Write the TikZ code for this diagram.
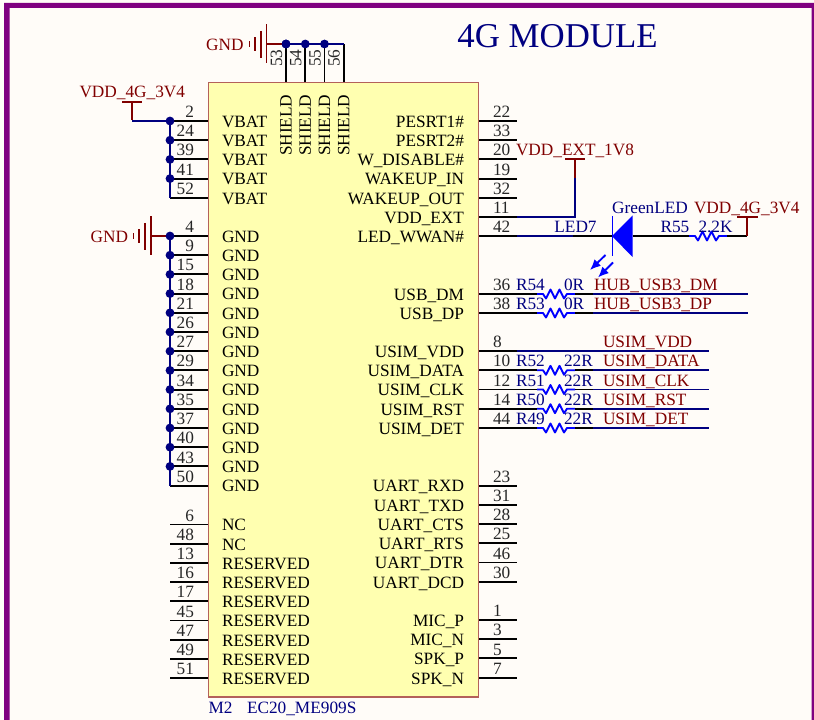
\documentclass[tikz,border=0pt]{standalone}
\usepackage{fontspec}
\usetikzlibrary{arrows.meta}
\setmainfont{Liberation Serif}
\definecolor{maroonx}{HTML}{800000}
\definecolor{navyx}{HTML}{000080}
\definecolor{bluex}{HTML}{0000FF}
\definecolor{purplex}{HTML}{800080}
\definecolor{paperx}{HTML}{FFFCF8}
\definecolor{blockx}{HTML}{FFFFB0}
\definecolor{edgex}{HTML}{B4615A}
\newcommand{\fs}{\fontsize{12.95pt}{14pt}\selectfont}
\tikzset{
  pinline/.style={draw=black,line width=1.4pt},
  wire/.style={draw=navyx,line width=1.4pt},
  pwr/.style={draw=maroonx,line width=1.4pt},
  txt/.style={inner sep=0pt,outer sep=0pt,font=\fs},
  pinname/.style={txt,text=black,anchor=base west},
  pinnamer/.style={txt,text=black,anchor=base east},
  pinnum/.style={txt,text=black!85,anchor=base},
  netlab/.style={txt,text=maroonx,anchor=base west},
  deslab/.style={txt,text=navyx,anchor=base west},
  junc/.style={circle,fill=navyx,inner sep=0pt,minimum size=6.6pt},
  resz/.style={draw=bluex,line width=1.4pt,line join=round},
  ledarrow/.style={-{Latex[length=8pt,width=7pt]},bluex,line width=1.4pt}
}
\newcommand{\leftpin}[4]{% id, y, num, name
  \coordinate (L#1) at (170,#2);\coordinate (LB#1) at (208,#2);
  \draw[pinline] (L#1) -- (LB#1);
  \node[pinnum,anchor=base east] (LN#1) at (194,#2-3.4) {#3};
  \node[pinname] (LT#1) at (222,#2+6.3) {#4};}
\newcommand{\rightpin}[4]{%
  \coordinate (R#1) at (517,#2);\coordinate (RB#1) at (479,#2);
  \draw[pinline] (RB#1) -- (R#1);
  \node[pinnum,anchor=base west] (RN#1) at (493,#2-3.4) {#3};
  \node[pinnamer] (RT#1) at (464,#2+6.3) {#4};}
\newcommand{\resist}[3]{% name, x start, y
  \coordinate (#1a) at (#2,#3);\coordinate (#1b) at (#2+38,#3);
  \draw[resz] (#1a) -- ++(6,0) -- ++(3,4.5) -- ++(4.5,-9) -- ++(4.5,9) -- ++(4.5,-9) -- ++(4.5,9) -- ++(3,-4.5) -- (#1b);}
\begin{document}
\begin{tikzpicture}[x=0.75pt,y=-0.75pt]
\useasboundingbox (0,0) rectangle (814,720);
\fill[paperx] (0,0) rectangle (814,720);
\fill[purplex] (4,726) -- (4,3) -- (814,3) -- (814,726) -- (811.5,726) -- (811.5,8) -- (9.5,8) -- (9.5,726) -- cycle;
\node[txt,font=\fontsize{26.1pt}{28pt}\selectfont,text=navyx,anchor=base] (title) at (557.5,47.5) {4G MODULE};
\node[draw=edgex,fill=blockx,line width=1pt,minimum width=202.5pt,minimum height=460.9pt,inner sep=0pt] (block) at (343.5,389.75) {};
% left pins
\leftpin{a}{121}{2}{VBAT}\leftpin{b}{140.2}{24}{VBAT}\leftpin{c}{159.4}{39}{VBAT}\leftpin{d}{178.6}{41}{VBAT}\leftpin{e}{197.8}{52}{VBAT}
\foreach \i/\n [count=\k from 0] in {1/4,2/9,3/15,4/18,5/21,6/26,7/27,8/29,9/34,10/35,11/37,12/40,13/43,14/50}{
  \pgfmathsetmacro\yy{236+19.2*\k}
  \leftpin{g\i}{\yy}{\n}{GND}}
\foreach \i/\n/\t [count=\k from 0] in {1/6/NC,2/48/NC,3/13/RESERVED,4/16/RESERVED,5/17/RESERVED,6/45/RESERVED,7/47/RESERVED,8/49/RESERVED,9/51/RESERVED}{
  \pgfmathsetmacro\yy{524.5+19.2*\k}
  \leftpin{n\i}{\yy}{\n}{\t}}
% right pins
\rightpin{a}{121}{22}{PESRT1\#}\rightpin{b}{140.2}{33}{PESRT2\#}\rightpin{c}{159.4}{20}{W\_DISABLE\#}\rightpin{d}{178.6}{19}{WAKEUP\_IN}\rightpin{e}{197.8}{32}{WAKEUP\_OUT}\rightpin{f}{217}{11}{VDD\_EXT}\rightpin{g}{236}{42}{LED\_WWAN\#}
\rightpin{h}{294}{36}{USB\_DM}\rightpin{i}{313}{38}{USB\_DP}
\rightpin{j}{351}{8}{USIM\_VDD}\rightpin{k}{370.3}{10}{USIM\_DATA}\rightpin{l}{389.5}{12}{USIM\_CLK}\rightpin{m}{408.7}{14}{USIM\_RST}\rightpin{o}{428}{44}{USIM\_DET}
\rightpin{p}{485.6}{23}{UART\_RXD}\rightpin{q}{504.8}{31}{UART\_TXD}\rightpin{r}{524}{28}{UART\_CTS}\rightpin{s}{543.2}{25}{UART\_RTS}\rightpin{t}{562.5}{46}{UART\_DTR}\rightpin{u}{581.7}{30}{UART\_DCD}
\rightpin{v}{620}{1}{MIC\_P}\rightpin{w}{639.2}{3}{MIC\_N}\rightpin{x}{658.4}{5}{SPK\_P}\rightpin{y}{678}{7}{SPK\_N}
% top pins
\foreach \x/\n [count=\k] in {286/53,305.3/54,324.5/55,343.7/56}{
  \coordinate (T\k) at (\x,44);\coordinate (TB\k) at (\x,82);
  \draw[pinline] (T\k) -- (TB\k);
  \node[txt,rotate=90,anchor=base west,text=black!85] (TN\k) at (\x-4,67) {\n};
  \node[pinname,rotate=90] (TT\k) at (\x+5.6,156) {SHIELD};}
\draw[wire] (T1) -- (T4);
\foreach \k in {1,2,3}{\node[junc] (TJ\k) at (T\k) {};}
% top GND
\coordinate (gt) at (266.5,44);
\draw[pwr] (gt) -- (T1);
\node[junc] (TJa) at (T1) {};
\draw[pwr] (266.5,24.5) -- (266.5,63.5);
\draw[pwr] (261,31) -- (261,58);
\draw[pwr] (255,37.5) -- (255,51.5);
\draw[pwr] (249.5,41.5) -- (249.5,47.5);
\node[netlab,anchor=base east] (gndt) at (243.5,50.7) {GND};
% VBAT
\coordinate (vb) at (132,102);
\draw[pwr] (vb) -- (132,120);
\draw[wire] (132,121) -- (La);
\draw[pwr] (122,102) -- (142,102);
\node[netlab] (vdda) at (79.5,97.5) {VDD\_4G\_3V4};
\draw[wire] (La) -- (Le);
\foreach \p in {a,b,c,d}{\node[junc] (J\p) at (L\p) {};}
% GND rail
\coordinate (gl) at (151,236);
\draw[pwr] (gl) -- (Lg1);
\draw[pwr] (151,216.5) -- (151,255.5);
\draw[pwr] (145,223) -- (145,250);
\draw[pwr] (139,229.5) -- (139,243.5);
\draw[pwr] (133.5,233.5) -- (133.5,239.5);
\node[netlab,anchor=base east] (gndl) at (128,242.7) {GND};
\draw[wire] (Lg1) -- (Lg14);
\foreach \k in {1,...,13}{\node[junc] (JG\k) at (Lg\k) {};}
% right nets
\coordinate (ve) at (575,159);
\draw[pwr] (565,159) -- (585,159);
\draw[pwr] (ve) -- (575,178);
\draw[wire] (575,178) |- (Rf);
\node[netlab] (vddext) at (516,155.5) {VDD\_EXT\_1V8};
% LED
\node[txt,text=navyx,anchor=base] (ledval) at (650,213.5) {GreenLED};
\node[txt,text=navyx,anchor=base] (ledn) at (575.5,232.5) {LED7};
\coordinate (ledc) at (612,236);\coordinate (leda) at (632.5,236);
\draw[wire] (Rg) -- (573,236);
\draw[pinline] (573,236) -- (ledc);
\fill[bluex] (ledc) -- (632.5,215.5) -- (632.5,257) -- cycle;
\draw[bluex,line width=1.4pt] (612.5,216) -- (612.5,256);
\draw[pinline] (leda) -- (690,236);
\draw[ledarrow] (605.5,255) -- (590,270);
\draw[ledarrow] (613,262.5) -- (598,277.5);
\resist{rl}{689}{236}
\coordinate (vl) at (747,236);
\draw[pinline] (rlb) -- (vl);
\draw[pwr] (747,236) -- (747,217);
\draw[pwr] (737,217) -- (758,217);
\node[netlab] (vddl) at (694,213.5) {VDD\_4G\_3V4};
\node[deslab] (r55) at (660.5,232.5) {R55};
\node[deslab] (r55v) at (698.5,232.5) {2.2K};
% USB
\foreach \p/\yy/\rn/\nn/\net in {h/294/R54/36/HUB\_USB3\_DM,i/313/R53/38/HUB\_USB3\_DP}{
  \resist{r\p}{537}{\yy}
  \coordinate (e\p) at (748,\yy);
  \draw[pinline] (R\p) -- (r\p a);
  \draw[pinline] (r\p b) -- (593,\yy);
  \draw[wire] (593,\yy) -- (e\p);
  \node[deslab] (d\p) at (516,\yy-3.4) {\rn};
  \node[deslab] (v\p) at (564,\yy-3.4) {0R};
  \node[netlab] (n\p) at (594,\yy-3.4) {\net};}
\coordinate (ej) at (709,351);
\draw[wire] (Rj) -- (ej);
\node[netlab] (nj) at (603,347.6) {USIM\_VDD};
\foreach \p/\yy/\rn/\net in {k/370.3/R52/USIM\_DATA,l/389.5/R51/USIM\_CLK,m/408.7/R50/USIM\_RST,o/428/R49/USIM\_DET}{
  \resist{r\p}{537}{\yy}
  \coordinate (e\p) at (709,\yy);
  \draw[pinline] (R\p) -- (r\p a);
  \draw[pinline] (r\p b) -- (593,\yy);
  \draw[wire] (593,\yy) -- (e\p);
  \node[deslab] (d\p) at (516,\yy-3.4) {\rn};
  \node[deslab] (v\p) at (564,\yy-3.4) {22R};
  \node[netlab] (n\p) at (603,\yy-3.4) {\net};}
% designators
\node[deslab] (m2) at (208.5,713) {M2};
\node[deslab] (part) at (247,713) {EC20\_ME909S};
\end{tikzpicture}
\end{document}
